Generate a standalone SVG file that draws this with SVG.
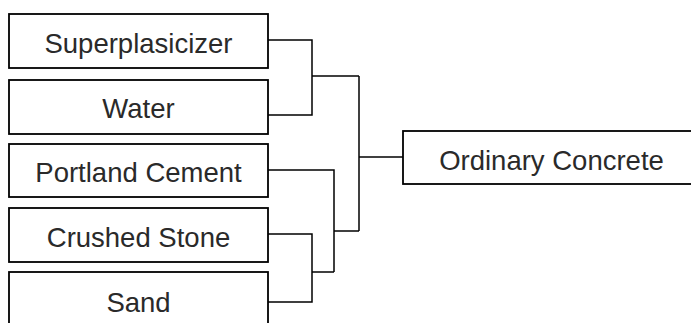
<svg xmlns="http://www.w3.org/2000/svg" width="691" height="323" viewBox="0 0 691 323">
<style>
.box{fill:#fff;stroke:#000;stroke-width:1.8}
.lbl{font-family:"Liberation Sans",Arial,sans-serif;font-size:27.5px;fill:#2a2a2a;text-anchor:middle}
.con{fill:none;stroke:#000;stroke-width:1.5}
</style>
<rect width="691" height="323" fill="#fff"/>
<g id="connectors">
<polyline class="con" points="268,40 312,40 312,115 268,115"/>
<line class="con" x1="312" y1="76" x2="359" y2="76"/>
<polyline class="con" points="268,234 312,234 312,302 268,302"/>
<line class="con" x1="312" y1="272" x2="334" y2="272"/>
<polyline class="con" points="268,170 334,170 334,272"/>
<line class="con" x1="334" y1="231" x2="359" y2="231"/>
<line class="con" x1="359" y1="76" x2="359" y2="231"/>
<line class="con" x1="359" y1="157" x2="403" y2="157"/>
</g>
<g id="superplasicizer"><rect class="box" x="9" y="14" width="259" height="54"/><text class="lbl" x="138.5" y="53">Superplasicizer</text></g>
<g id="water"><rect class="box" x="9" y="80" width="259" height="54"/><text class="lbl" x="138.5" y="118">Water</text></g>
<g id="portland-cement"><rect class="box" x="9" y="144" width="259" height="53"/><text class="lbl" x="138.5" y="182">Portland Cement</text></g>
<g id="crushed-stone"><rect class="box" x="9" y="208" width="259" height="54"/><text class="lbl" x="138.5" y="247">Crushed Stone</text></g>
<g id="sand"><rect class="box" x="9" y="272" width="259" height="60"/><text class="lbl" x="138.5" y="312">Sand</text></g>
<g id="ordinary-concrete"><rect class="box" x="403" y="131" width="300" height="53"/><text class="lbl" x="551.5" y="170">Ordinary Concrete</text></g>
</svg>
